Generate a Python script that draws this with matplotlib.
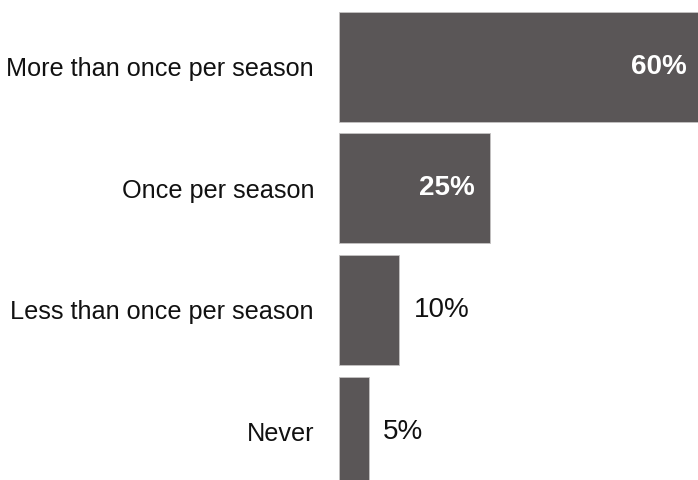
import matplotlib
matplotlib.use("Agg")
import matplotlib.pyplot as plt
from matplotlib.transforms import offset_copy

categories = ["More than once per season", "Once per season",
              "Less than once per season", "Never"]
values = [60, 25, 10, 5]
labels = ["60%", "25%", "10%", "5%"]

bar_color = "#5a5657"

fig = plt.figure(figsize=(6.98, 4.8), dpi=100)
ax = fig.add_axes([339 / 698, 0, 1 - 339 / 698, 1])

ypos = list(range(len(categories)))
ax.barh(ypos, values, height=0.905, color=bar_color,
        edgecolor="#c4c2c2", linewidth=0.6)

ax.set_xlim(0, 59.4)
ax.set_ylim(3.399, -0.551)

ax.set_yticks(ypos)
ax.set_yticklabels(categories, fontsize=18.2, family="Liberation Sans",
                   color="#111111")
ax.tick_params(axis="y", length=0, pad=18)
ax.set_xticks([])
for s in ax.spines.values():
    s.set_visible(False)

inside = offset_copy(ax.transData, fig=fig, x=-15, y=0, units="dots")
outside = offset_copy(ax.transData, fig=fig, x=14, y=0, units="dots")
for y, v, lab in zip(ypos, values, labels):
    if v >= 20:
        ax.text(v, y, lab, transform=inside, ha="right", va="center",
                color="white", fontsize=20, fontweight="bold",
                family="Liberation Sans")
    else:
        ax.text(v, y, lab, transform=outside, ha="left", va="center",
                color="#111111", fontsize=20, family="Liberation Sans")

fig.savefig("out.png", dpi=100)
